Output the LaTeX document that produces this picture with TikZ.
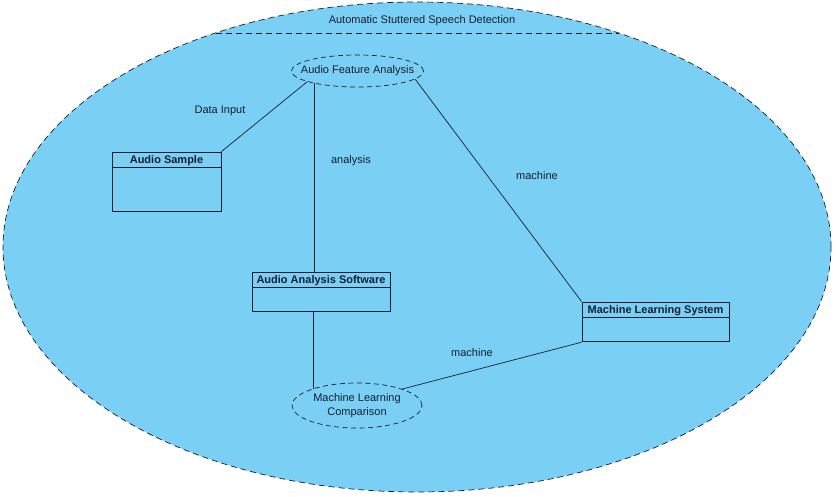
\documentclass[tikz,border=0pt]{standalone}
\usepackage{fontspec}
\setmainfont{Liberation Sans}
\usepackage{xcolor}
\usepackage{tikz}
\usetikzlibrary{shapes.geometric,positioning}
\definecolor{sysblue}{RGB}{122,207,245}
\definecolor{inkblue}{RGB}{22,30,48}

\begin{document}
\begin{tikzpicture}[x=1pt, y=-1pt,
    every node/.style={font=\fontsize{11}{14}\selectfont, text=inkblue},
    usecase/.style={ellipse, draw=inkblue, dash pattern=on 5pt off 3.5pt, line width=0.7pt, inner sep=0pt},
    header/.style={draw=inkblue, line width=0.8pt, rectangle, minimum height=15pt, inner sep=0pt, text depth=0pt, font=\fontsize{11}{14}\selectfont\bfseries},
    body/.style={draw=inkblue, line width=0.8pt, rectangle, inner sep=0pt},
    link/.style={draw=inkblue, line width=0.7pt}]
    \useasboundingbox (0,0) rectangle (836,496);
    \node[ellipse, draw=inkblue, fill=sysblue, dash pattern=on 6pt off 4pt, line width=0.7pt, minimum width=828pt, minimum height=490pt, inner sep=0pt] at (417, 247) (system) {};
    \node[] at (422, 21) (title) {Automatic Stuttered Speech Detection};
    \coordinate (sepL) at (215.5, 33);
    \coordinate (sepR) at (618.5, 33);
    \draw [link, dash pattern=on 6pt off 4pt] (sepL) -- (sepR);

    \node[usecase, inner xsep=-12pt, minimum width=132pt, minimum height=32pt] at (357.5, 71) (afa) {Audio Feature Analysis};
    \node[usecase, minimum width=130pt, minimum height=45pt, align=center] at (357, 405.5) (mlc) {Machine Learning\\Comparison};

    \node[header, minimum width=109pt] at (166.5, 159.5) (sample) {Audio Sample};
    \node[body, below=0pt of sample, minimum width=109pt, minimum height=44pt] (sample body) {};
    \node[header, minimum width=138pt] at (321, 279.5) (soft) {Audio Analysis Software};
    \node[body, below=0pt of soft, minimum width=138pt, minimum height=24pt] (soft body) {};
    \node[header, minimum width=147pt] at (655.5, 309.5) (mls) {Machine Learning System};
    \node[body, below=0pt of mls, minimum width=147pt, minimum height=24pt] (mls body) {};

    \draw [link] (sample.north east) -- (afa.192);
    \draw [link] (afa.196) -- (afa.196 |- soft.north);
    \draw [link] (afa.352) -- (mls.north west);
    \draw [link] (mlc.159 |- soft body.south) -- (mlc.159);
    \draw [link] (mls body.south west) -- (mlc.20);

    \node[] at (220, 111) (lbl input) {Data Input};
    \node[] at (351, 161) (lbl analysis) {analysis};
    \node[] at (537, 176) (lbl machine1) {machine};
    \node[] at (472, 353) (lbl machine2) {machine};
\end{tikzpicture}
\end{document}
